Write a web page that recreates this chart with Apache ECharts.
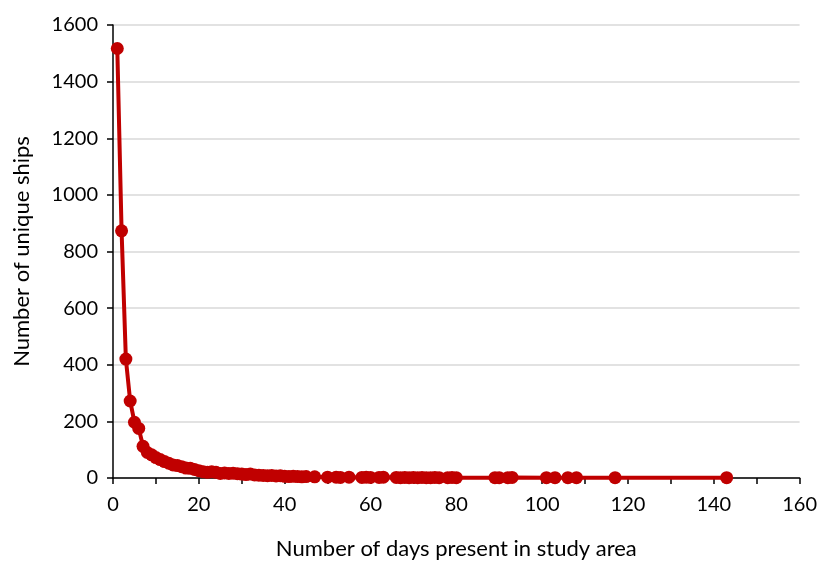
<!DOCTYPE html>
<html>
<head>
<meta charset="utf-8">
<script src="https://cdn.jsdelivr.net/npm/echarts@6/dist/echarts.min.js"></script>
<style>html,body{margin:0;padding:0;background:#fff}#c{width:820px;height:565px}</style>
</head>
<body>
<div id="c"></div>
<script>
const days = [1,2,3,4,5,6,7,8,9,10,11,12,13,14,15,16,17,18,19,20,21,22,23,24,25,26,27,28,29,30,31,32,33,34,35,36,37,38,39,40,41,42,43,44,45,47,50,52,53,55,58,59,60,62,63,66,67,68,69,70,71,72,73,74,75,76,78,79,80,89,90,92,93,101,103,106,108,117,143];
const ships = [1517,873,420,272,197,175,112,90,82,72,65,58,52,46,44,40,35,34,30,26,22,20,22,20,16,18,16,17,15,14,12,14,11,10,9,8,9,7,8,6,5,6,5,4,5,4,3,3,2,3,2,3,2,2,3,2,1,2,1,2,1,2,1,1,2,1,1,2,1,1,1,1,2,1,1,1,1,1,1];
const xTicks = {min:0, max:160, interval:20};
const yTicks = {min:0, max:1600, interval:200};

const font = 'Lato, "Open Sans", sans-serif';
const chart = echarts.init(document.getElementById('c'));
chart.setOption({
  animation:false,
  grid:{left:113, right:20, top:25, bottom:85},
  xAxis:{
    type:'value', min:xTicks.min, max:xTicks.max, interval:xTicks.interval,
    name:'Number of days present in study area', nameLocation:'middle', nameGap:60,
    nameTextStyle:{fontFamily:font, fontSize:22, color:'#000'},
    axisLine:{show:true, lineStyle:{color:'#000', width:1.5}},
    axisTick:{show:true, length:6, lineStyle:{color:'#000', width:1.5}},
    minorTick:{show:true, splitNumber:2, length:6, lineStyle:{color:'#000', width:1.5}},
    axisLabel:{fontFamily:font, fontSize:20, color:'#000', margin:17},
    splitLine:{show:false}
  },
  yAxis:{
    type:'value', min:yTicks.min, max:yTicks.max, interval:yTicks.interval,
    name:'Number of unique ships', nameLocation:'middle', nameGap:80,
    nameTextStyle:{fontFamily:font, fontSize:22, color:'#000'},
    axisLine:{show:true, lineStyle:{color:'#000', width:1.5}},
    axisTick:{show:true, length:6, lineStyle:{color:'#000', width:1.5}},
    axisLabel:{fontFamily:font, fontSize:20, color:'#000', margin:15, formatter:v=>String(v)},
    splitLine:{show:true, lineStyle:{color:'#d9d9d9', width:1.5}}
  },
  series:[{
    type:'line',
    data: days.map((d,i)=>[d, ships[i]]),
    symbol:'circle', symbolSize:13,
    itemStyle:{color:'#C00000'},
    lineStyle:{color:'#C00000', width:4},
    z:3
  }]
});
</script>
</body>
</html>
